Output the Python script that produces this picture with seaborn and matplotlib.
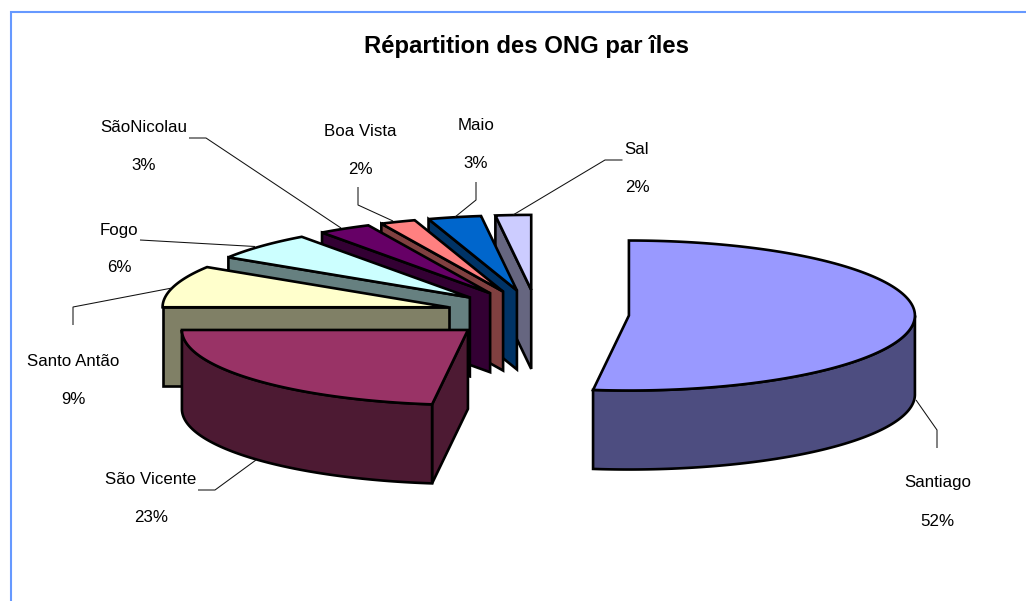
import numpy as np
import matplotlib
matplotlib.use("Agg")
import matplotlib.pyplot as plt
import seaborn as sns

# ---- data ----
islands = ["Santiago", "São Vicente", "Santo Antão", "Fogo",
           "SãoNicolau", "Boa Vista", "Maio", "Sal"]
shares = [52, 23, 9, 6, 3, 2, 3, 2]
top_colors = ["#9999FF", "#993366", "#FFFFCC", "#CCFFFF",
              "#660066", "#FF8080", "#0066CC", "#CCCCFF"]
title = "Répartition des ONG par îles"

# ---- layout (in figure pixels) ----
W, H = 1026, 601
CX, CY = 537, 314          # pie centre
RX, RY = 286, 75           # projected radii
DEPTH = 79                 # height of the pie
EXPLODE = 0.322            # explosion as a fraction of the radius
name_xy = [(937.5, 483), (151, 480), (73, 361), (119, 230),
           (144, 128), (360, 132), (476, 126), (637, 150)]
pct_xy = [(937.5, 522), (151, 517), (73, 399), (119, 267),
          (144, 166), (360, 169), (476, 164), (637, 188)]
leaders = [
    [(937, 448), (937, 430), (916, 400)],
    [(198, 490), (215, 490), (256, 460)],
    [(73, 325), (73, 307), (172, 288)],
    [(140, 240), (255, 246.5)],
    [(189, 138), (206, 138), (341, 228)],
    [(358, 187), (358, 205), (393, 221)],
    [(476, 182), (476, 200), (455, 217)],
    [(622.5, 160), (605, 160), (513, 215)],
]

sns.set_theme(style="white")
plt.rcParams["font.family"] = ["Liberation Sans", "DejaVu Sans"]
palette = sns.color_palette(top_colors)

fig = plt.figure(figsize=(W / 100, H / 100), dpi=100, facecolor="white")
ax = fig.add_axes([0, 0, 1, 1])
ax.set_xlim(0, W)
ax.set_ylim(H, 0)
ax.axis("off")

# chart frame: only the left and top edges are in view
ax.plot([10.5, 10.5, W], [H, 12, 12], color="#6699FF", lw=1.5,
        solid_joinstyle="miter", zorder=0)

edges = np.cumsum([0] + shares) / sum(shares) * 2 * np.pi


def arc(a0, a1, cx, cy):
    """Points on the rim, angle measured clockwise from the top."""
    t = np.linspace(a0, a1, 160)
    return cx + RX * np.sin(t), cy - RY * np.cos(t)


def face(x, y, color, z):
    ax.fill(x, y, facecolor=color, edgecolor="black", lw=1.9,
            joinstyle="miter", zorder=z)


def wall(x, y, color, z):
    x, y = np.asarray(x), np.asarray(y)
    face(np.r_[x, x[::-1]], np.r_[y, y[::-1] + DEPTH], color, z)


# back slices first, Santiago stands on its own at the right
order = [0] + list(range(len(shares) - 1, 0, -1))
for z, i in enumerate(order, start=2):
    a0, a1 = edges[i], edges[i + 1]
    mid = (a0 + a1) / 2
    cx = CX + EXPLODE * RX * np.sin(mid)
    cy = CY - EXPLODE * RY * np.cos(mid)
    rim_x, rim_y = arc(a0, a1, cx, cy)
    dark = tuple(c * 0.5 for c in palette[i])
    # cut faces turned towards the viewer
    if np.sin(a0) < -1e-9:
        wall([rim_x[0], cx], [rim_y[0], cy], dark, z)
    if np.sin(a1) > 1e-9:
        wall([rim_x[-1], cx], [rim_y[-1], cy], dark, z)
    # outer wall, only the front half of the pie shows
    lo, hi = max(a0, np.pi / 2), min(a1, 3 * np.pi / 2)
    if hi > lo:
        wx, wy = arc(lo, hi, cx, cy)
        wall(wx, wy, dark, z)
    face(np.r_[cx, rim_x], np.r_[cy, rim_y], palette[i], z + 0.5)

# leader lines and labels
for pts, name, share, nxy, pxy in zip(leaders, islands, shares, name_xy, pct_xy):
    xs, ys = zip(*pts)
    ax.plot(xs, ys, color="#111111", lw=0.75, zorder=20,
            solid_joinstyle="miter", solid_capstyle="butt")
    ax.text(*nxy, name, ha="center", va="center", fontsize=12.2, color="black", zorder=21)
    ax.text(*pxy, f"{share}%", ha="center", va="center", fontsize=12.2, color="black", zorder=21)

ax.text(526, 47, title, ha="center", va="center", fontsize=17.2,
        fontweight="bold", color="black", zorder=21)

fig.savefig("out.png", dpi=100, facecolor="white")
